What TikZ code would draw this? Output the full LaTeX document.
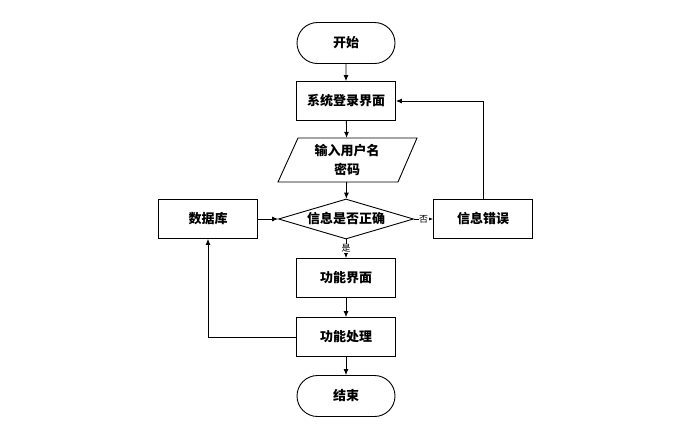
\documentclass[tikz,border=0pt]{standalone}
\usepackage{fontspec}
\newfontfamily\cjk{Noto Sans CJK SC}
\usetikzlibrary{shapes.geometric,shapes.misc,arrows.meta}
\begin{document}
\begin{tikzpicture}[x=1pt,y=-1pt,
  every node/.style={font=\cjk\bfseries\fontsize{13}{15}\selectfont},
  proc/.style={draw,line width=0.9pt,minimum width=99pt,minimum height=39pt,inner sep=0pt},
  term/.style={draw,line width=0.9pt,rounded rectangle,minimum width=98pt,minimum height=41pt,inner sep=0pt},
  dec/.style={draw,line width=0.9pt,diamond,aspect=3.4,minimum width=135pt,minimum height=40pt,inner sep=0pt},
  lab/.style={font=\cjk\fontsize{9}{10}\selectfont,fill=white,inner sep=0.5pt},
  arr/.style={draw,line width=0.8pt,-{Latex[length=6pt,width=5pt]}}]
\useasboundingbox (0,0) rectangle (678,432);
\node[term] (start) at (346,43) {开始};
\node[proc] (login) at (346,101) {系统登录界面};
\node[align=center,font=\cjk\bfseries\fontsize{13}{19}\selectfont,minimum width=100pt,minimum height=44pt,inner sep=0pt] (input) at (347,160) {输入用户名\\密码};
\draw[line width=0.9pt] (298,138) -- (417,138) -- (398,182) -- (278,182) -- cycle;
\node[dec] (check) at (346,219) {信息是否正确};
\node[proc] (db) at (208,219) {数据库};
\node[proc] (err) at (483,219) {信息错误};
\node[proc] (func) at (346,278) {功能界面};
\node[proc] (proc) at (346,337) {功能处理};
\node[term] (end) at (346,396) {结束};
\draw[arr] (start) -- (login);
\draw[arr] (login) -- (input);
\draw[arr] (input) -- (check);
\draw[arr] (check) -- node[lab] (no) {否} (err);
\draw[arr] (check) -- node[lab] (yes) {是} (func);
\draw[arr] (func) -- (proc);
\draw[arr] (proc) -- (end);
\draw[arr] (db) -- (check);
\draw[arr] (err.north) |- (login.east);
\draw[arr] (proc.west) -| (db.south);
\end{tikzpicture}
\end{document}
